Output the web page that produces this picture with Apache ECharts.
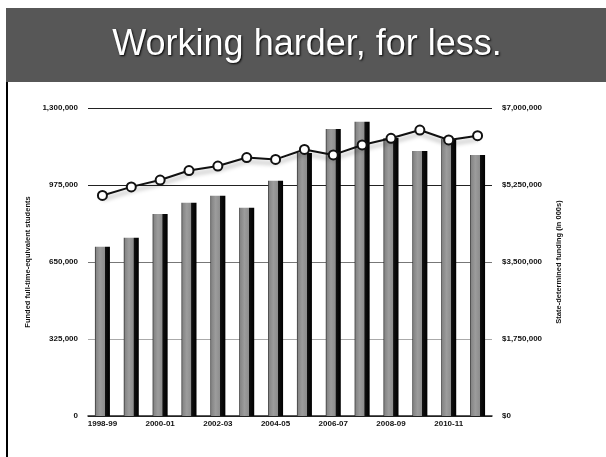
<!DOCTYPE html>
<html>
<head>
<meta charset="utf-8">
<script src="https://cdn.jsdelivr.net/npm/echarts@6/dist/echarts.min.js"></script>
<style>
html,body{margin:0;padding:0;background:#fff;}
#chart{width:606px;height:457px;}
</style>
</head>
<body>
<div id="chart"></div>
<script>
// ---- data ----
var titleText = 'Working harder, for less.';
var categories = ['1998-99','1999-00','2000-01','2001-02','2002-03','2003-04','2004-05','2005-06','2006-07','2007-08','2008-09','2009-10','2010-11','2011-12'];
// State-determined funding (in 000s) - bars, right axis
var funding = [3848000, 4052000, 4591000, 4848000, 5007000, 4734000, 5348000, 5977000, 6523000, 6689000, 6318000, 6023000, 6295000, 5932000];
// Funded full-time-equivalent students - line, left axis
var students = [931000, 967000, 996000, 1036000, 1055000, 1091000, 1083000, 1125000, 1102000, 1144000, 1172000, 1207000, 1165000, 1183000];
var leftTicks = [0, 325000, 650000, 975000, 1300000];
var rightTicks = [0, 1750000, 3500000, 5250000, 7000000];
var leftName = 'Funded full-time-equivalent students';
var rightName = 'State-determined funding (in 000s)';

function fmt(v){ return v.toLocaleString('en-US'); }

var chart = echarts.init(document.getElementById('chart'), null, {renderer:'canvas'});
var labelFont = {fontFamily:'Liberation Sans, Arial, sans-serif', fontSize:8, color:'#111', fontWeight:'bold'};

var option = {
  animation:false,
  backgroundColor:'#fff',
  grid:{left:88, right:114, top:108, bottom:41},
  graphic:[
    {type:'rect', left:6, top:8, shape:{width:600, height:74}, style:{fill:'#575757'}, z:0},
    {type:'text', x:307, y:45, z:2,
      style:{text:titleText, fill:'#fff', font:'36px "Liberation Sans", Arial, sans-serif',
        align:'center', verticalAlign:'middle',
        textShadowColor:'rgba(0,0,0,0.95)', textShadowBlur:2, textShadowOffsetX:1, textShadowOffsetY:1}},
    {type:'line', shape:{x1:7, y1:82, x2:7, y2:457}, style:{stroke:'#000', lineWidth:2}, z:2}
  ],
  xAxis:{
    type:'category', data:categories,
    axisLine:{lineStyle:{color:'#222', width:1.5}},
    axisTick:{show:false},
    axisLabel:Object.assign({interval:1, margin:4}, labelFont)
  },
  yAxis:[
    {type:'value', min:leftTicks[0], max:leftTicks[leftTicks.length-1], interval:leftTicks[1]-leftTicks[0],
      name:leftName, nameLocation:'middle', nameRotate:90, nameGap:54,
      nameTextStyle:Object.assign({}, labelFont, {fontSize:7.5}),
      axisLine:{show:false}, axisTick:{show:false},
      axisLabel:Object.assign({margin:10, formatter:function(v){return fmt(v);}}, labelFont),
      splitLine:{lineStyle:{color:['#222','#aaa','#777','#222','#222'], width:1}}
    },
    {type:'value', min:rightTicks[0], max:rightTicks[rightTicks.length-1], interval:rightTicks[1]-rightTicks[0],
      name:rightName, nameLocation:'middle', nameRotate:90, nameGap:63,
      nameTextStyle:Object.assign({}, labelFont, {fontSize:7.5}),
      axisLine:{show:false}, axisTick:{show:false},
      axisLabel:Object.assign({margin:10, formatter:function(v){return '$'+fmt(v);}}, labelFont),
      splitLine:{show:false}
    }
  ],
  series:[
    {type:'bar', name:rightName, yAxisIndex:1, data:funding, barWidth:15, z:2,
      itemStyle:{color:new echarts.graphic.LinearGradient(0,0,1,0,[
        {offset:0,color:'#222'},{offset:0.08,color:'#858585'},{offset:0.35,color:'#9c9c9c'},
        {offset:0.64,color:'#8e8e8e'},{offset:0.67,color:'#111'},{offset:1,color:'#000'}])}
    },
    {type:'line', name:leftName, yAxisIndex:0, data:students, z:5,
      symbol:'circle', symbolSize:9,
      lineStyle:{color:'#111', width:2, shadowColor:'rgba(0,0,0,0.35)', shadowBlur:4, shadowOffsetY:4},
      itemStyle:{color:'#fff', borderColor:'#111', borderWidth:2}
    }
  ]
};
chart.setOption(option);
</script>
</body>
</html>
